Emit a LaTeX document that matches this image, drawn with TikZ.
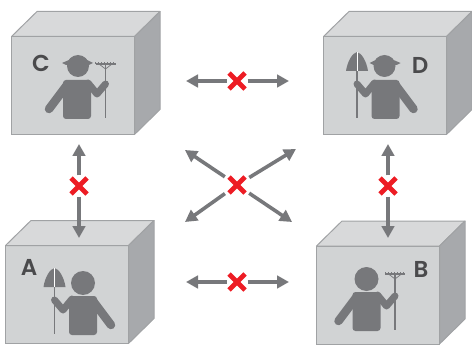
\documentclass[tikz,border=0pt]{standalone}
\usepackage{fontspec}
\setmainfont{Poppins SemiBold}
\usetikzlibrary{shapes.misc,arrows.meta}
\definecolor{arrowgray}{HTML}{77787B}
\definecolor{figgray}{HTML}{77787B}
\definecolor{facegray}{HTML}{D1D3D4}
\definecolor{topgray}{HTML}{D8D9DA}
\definecolor{sidegray}{HTML}{A7A9AC}
\definecolor{edgegray}{HTML}{A0A2A4}
\definecolor{labelgray}{HTML}{4A4A4C}
\definecolor{crossred}{HTML}{ED1C24}
\tikzset{
  x=1pt,y=-1pt,
  front/.style={draw=edgegray,line width=1pt,fill=facegray,minimum width=123pt,minimum height=98pt,inner sep=0pt,outer sep=0pt},
  cubeface/.style={draw=edgegray,line width=1pt,line join=round},
  nogo/.style={cross out,draw=crossred,line width=4.6pt,minimum size=16pt,inner sep=0pt,outer sep=0pt},
  link/.style={draw=arrowgray,line width=3.6pt,-{Triangle[length=12pt,width=12.5pt]},shorten <=2.5pt},
  diaglink/.style={link,shorten <=5pt},
  letter/.style={text=labelgray,font=\fontsize{23}{23}\selectfont,inner sep=0pt},
  limb/.style={draw=figgray,line cap=round,line join=round},
}
% cube: name, front-centre
\newcommand{\cube}[3]{%
  \node[front] (#1) at (#2,#3) {};
  \fill[topgray,cubeface] (#1.north west) -- ++(25.5,-25) -- ++(123,0) -- (#1.north east) -- cycle;
  \fill[sidegray,cubeface] (#1.north east) -- ++(25.5,-25) -- ++(0,98) -- (#1.south east) -- cycle;
}
% body, local origin at torso top centre, tool hand on the +x side
\newcommand{\bodyshape}{%
  \fill[figgray,rounded corners=3pt] (-14,0) -- (14,0) -- (14,39) -- (-14,39) -- cycle;
  \draw[limb,line width=8.5pt] (-10,5) -- (-28,29);
  \draw[limb,line width=7pt] (11,3) -- (20,14) -- (28.5,4);
}
\newcommand{\roundhead}{\fill[figgray] (0,-13) circle (12);}
\newcommand{\caphead}{%
  \fill[figgray] (1,-14) circle (11);
  \fill[figgray] (-15,-17) -- (-8,-20) .. controls (-6,-25) and (8,-25) .. (10,-20) -- (16,-17) -- (12,-15) -- (-11,-15) -- cycle;
}
\newcommand{\raketool}[1]{%
  \draw[figgray,line width=1.2pt] (28.5,#1) -- (28.5,38);
  \draw[figgray,line width=1.1pt] (18.5,#1) -- (38.5,#1);
  \draw[figgray,line width=.5pt] (18.5,#1) -- ++(0,-2.2) (21.5,#1) -- ++(0,-2.2) (24.5,#1) -- ++(0,-2.2) (27.5,#1) -- ++(0,-2.2) (30.5,#1) -- ++(0,-2.2) (33.5,#1) -- ++(0,-2.2) (36.5,#1) -- ++(0,-2.2);
  \draw[figgray,line width=.7pt] (22,#1) -- (28.5,#1+5) -- (35,#1);
}
\newcommand{\umbrellatool}{%
  \draw[figgray,line width=1.4pt] (28.5,-9) -- (28.5,38);
  \fill[figgray] (17.5,-9) .. controls (19,-19) and (24,-27) .. (28.5,-28) .. controls (33,-27) and (38,-19) .. (39.5,-9) -- cycle;
  \draw[white,line width=.7pt] (28.5,-28) -- (28.5,-9);
}
\begin{document}
\begin{tikzpicture}
\useasboundingbox (0,0) rectangle (472,345);
% cubes
\cube{cubeC}{73}{85.5}
\cube{cubeD}{385}{85.5}
\cube{cubeA}{67}{294.5}
\cube{cubeB}{378}{295}
% figures
\begin{scope}[shift={(77,80)}]\bodyshape\caphead\raketool{-16}\end{scope}
\begin{scope}[shift={(385.5,80)},xscale=-1]\bodyshape\caphead\umbrellatool\end{scope}
\begin{scope}[shift={(83,296)},xscale=-1]\bodyshape\roundhead\umbrellatool\end{scope}
\begin{scope}[shift={(366.5,292)}]\bodyshape\roundhead\raketool{-18}\end{scope}
% labels
\node[letter] (labelC) at (41,63) {C};
\node[letter] (labelD) at (420,65) {D};
\node[letter] (labelA) at (29,267) {A};
\node[letter] (labelB) at (421,269) {B};
% crosses
\node[nogo] (xtop) at (237,81) {};
\node[nogo] (xbot) at (237,282) {};
\node[nogo] (xleft) at (79,186) {};
\node[nogo] (xright) at (388,186) {};
\node[nogo] (xmid) at (237,185) {};
% free ends
\coordinate (t1) at (186,81); \coordinate (t2) at (289,81);
\coordinate (b1) at (186,282); \coordinate (b2) at (289,282);
\coordinate (l1) at (79,144); \coordinate (l2) at (79,238);
\coordinate (r1) at (388,144); \coordinate (r2) at (388,238);
\coordinate (m1) at (185,150); \coordinate (m2) at (296,149);
\coordinate (m3) at (185,222); \coordinate (m4) at (292,222);
% connectors
\foreach \c/\e in {xtop/t1,xtop/t2,xbot/b1,xbot/b2,xleft/l1,xleft/l2,xright/r1,xright/r2}
  \draw[link] (\c) -- (\e);
\foreach \e in {m1,m2,m3,m4}
  \draw[diaglink] (xmid) -- (\e);
\end{tikzpicture}
\end{document}
